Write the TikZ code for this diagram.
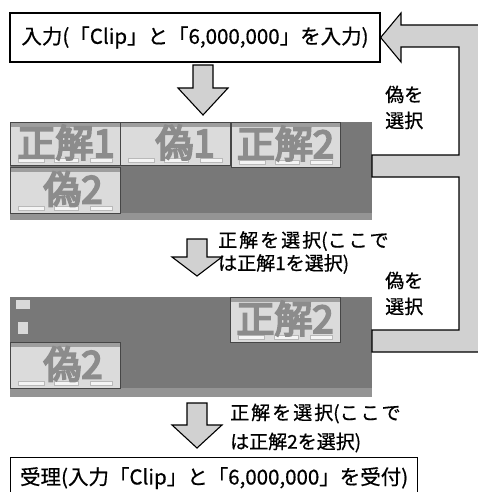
\documentclass[tikz,border=0pt]{standalone}
\usepackage{fontspec}
\setmainfont[FakeBold=0.6]{Noto Sans CJK JP}
\newfontfamily\bigfont[FakeBold=5]{Noto Sans CJK JP}
\definecolor{arrowgray}{gray}{0.82}
\definecolor{deskgray}{gray}{0.47}
\definecolor{barsgray}{gray}{0.58}
\definecolor{wingray}{gray}{0.86}
\definecolor{titlegray}{gray}{0.62}
\definecolor{biggray}{gray}{0.55}
\newcommand\gp{\hspace{2pt}}
\newcommand\drawwin[7]{% x1 y1 x2 y2 dx name text
  \fill[wingray] (#1,#2) rectangle (#3,#4);
  \fill[titlegray] (#1,#2) rectangle (#3,#2+5);
  \draw[btn] (#1+8,#4-7) rectangle (#1+34,#4-3);
  \draw[btn] (#1+44,#4-7) rectangle (#1+68,#4-3);
  \draw[btn] (#3-30,#4-7) rectangle (#3-8,#4-3);
  \node[bigtext] (#6) at ({(#1+#3)/2+#5},{(#2+#4)/2-1}) {#7};
  \draw[winborder] (#1,#2) rectangle (#3,#4);
}
\tikzset{
  box/.style={draw=black, line width=1.3pt, fill=white, inner sep=0pt,
    font=\fontsize{20.5}{24}\selectfont},
  blockarrow/.style={draw=black, line width=1.1pt, fill=arrowgray, line join=miter},
  lbl/.style={align=left, inner sep=0pt, anchor=north west},
  desk/.style={fill=deskgray, inner sep=0pt, anchor=north west},
  winborder/.style={draw=gray!55!black, line width=0.5pt},
  btn/.style={fill=white!92!gray, draw=gray!55, line width=0.3pt},
  bigtext/.style={text=biggray, font=\bigfont\fontsize{38}{38}\selectfont, inner sep=0pt},
  pics/downarrow/.style n args={2}{code={
    \draw[blockarrow] (-10,0) -- (10,0) -- (10,#1) -- (25,#1) -- (0,#2)
      -- (-25,#1) -- (-10,#1) -- cycle;}},
}
\begin{document}
\begin{tikzpicture}[x=1pt,y=-1pt]
\useasboundingbox (0,0) rectangle (478,492);
\fill[white] (0,0) rectangle (478,492);

% input box
\node[box, minimum width=370pt, minimum height=49pt] (in) at (195,37.5)
  {入力(「Clip」と「6,000,000」を入力)};

% screenshot 1
\node[desk, minimum width=362pt, minimum height=98pt] (shotA) at (10,122) {};
\fill[barsgray] (10,213) rectangle (372,220);
\drawwin{10}{122}{120}{165}{1}{wA}{正解1}
\drawwin{120}{122}{230}{165}{10}{wB}{偽1}
\drawwin{231}{122}{340}{167}{0}{wC}{正解2}
\drawwin{10}{167}{120}{213}{8}{wD}{偽2}

% screenshot 2
\node[desk, minimum width=362pt, minimum height=100pt] (shotB) at (10,297) {};
\fill[barsgray] (10,388) rectangle (372,397);
\fill[gray!30] (16,300) rectangle (30,309);
\fill[gray!30] (18,322) rectangle (28,334);
\drawwin{230}{297}{340}{342}{0}{wE}{正解2}
\drawwin{10}{342}{120}{388}{8}{wF}{偽2}

% accept box
\node[box, anchor=north west, minimum width=407pt, minimum height=41pt] (acc) at (10,457)
  {受理(入力「Clip」と「6,000,000」を受付)};

% down arrows
\pic at (203,65) {downarrow={23}{50}};
\pic at (197,239) {downarrow={18}{37}};
\pic at (197,403) {downarrow={22}{45}};

% loop arrow back to input
\draw[blockarrow] (in.east) -- (401,13) -- (401,25) -- (495,25) -- (495,352)
  -- (372,352) -- (372,330) -- (459,330) -- (459,177) -- (372,177) -- (372,155)
  -- (459,155) -- (459,47) -- (401,47) -- (401,62) -- cycle;

% labels
\node[lbl, font=\fontsize{19}{26}\selectfont] (f1) at (385,85.5) {偽を\\選択};
\node[lbl, font=\fontsize{19}{26}\selectfont] (f2) at (385,271.5) {偽を\\選択};
\node[lbl, font=\fontsize{19}{23}\selectfont] (l1) at (218,231)
  {正\gp 解\gp を\gp 選\gp 択(こ\gp こ\gp で\\は正解1を選択)};
\node[lbl, font=\fontsize{19}{29}\selectfont] (l2) at (230,403.5)
  {正\gp 解\gp を\gp 選\gp 択(こ\gp こ\gp で\\は正解2を選択)};
\end{tikzpicture}
\end{document}
